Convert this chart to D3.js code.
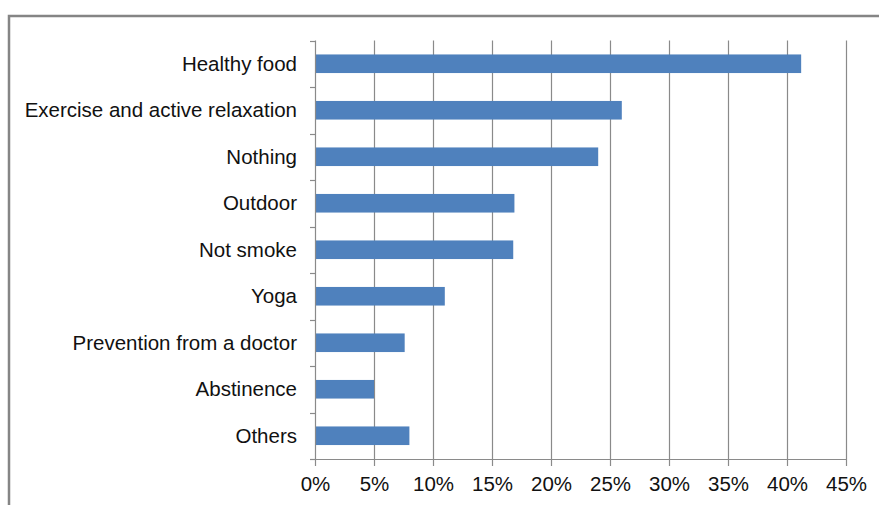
<!DOCTYPE html>
<html>
<head>
<meta charset="utf-8">
<script src="https://cdn.jsdelivr.net/npm/d3@7/dist/d3.min.js"></script>
<style>
  html, body { margin: 0; padding: 0; background: #fff; }
  svg { display: block; }
  text { font-family: "Liberation Sans", Arial, sans-serif; fill: #111; }
</style>
</head>
<body>
<svg id="chart" width="879" height="505"></svg>
<script>
// Share of respondents by what they do to stay healthy
const categories = [
  "Healthy food",
  "Exercise and active relaxation",
  "Nothing",
  "Outdoor",
  "Not smoke",
  "Yoga",
  "Prevention from a doctor",
  "Abstinence",
  "Others"
];
const values = [41.2, 26.0, 24.0, 16.9, 16.8, 11.0, 7.6, 5.0, 8.0];
const xTicks = [0, 5, 10, 15, 20, 25, 30, 35, 40, 45];

const svg = d3.select("#chart");
const W = 879, H = 505;
const plot = { left: 315, right: 846, top: 40.5, bottom: 459 };
const gridColor = "#8a8a8a";
const barColor = "#4f81bd";

// outer frame (runs past the right and bottom edges)
svg.append("rect")
  .attr("x", 9).attr("y", 16)
  .attr("width", W + 20).attr("height", H + 20)
  .attr("fill", "#fff")
  .attr("stroke", "#858585")
  .attr("stroke-width", 2.5);

const x = d3.scaleLinear().domain([0, 45]).range([plot.left, plot.right]);
const y = d3.scaleBand().domain(categories).range([plot.top, plot.bottom]).paddingInner(0).paddingOuter(0);

// vertical gridlines
svg.append("g")
  .selectAll("line")
  .data(xTicks.slice(1))
  .join("line")
  .attr("x1", d => Math.round(x(d)) + 0.5)
  .attr("x2", d => Math.round(x(d)) + 0.5)
  .attr("y1", plot.top)
  .attr("y2", plot.bottom)
  .attr("stroke", gridColor)
  .attr("stroke-width", 1.2);

// bars
const barH = y.bandwidth() * 0.4;
svg.append("g")
  .selectAll("rect")
  .data(values)
  .join("rect")
  .attr("x", x(0))
  .attr("y", (d, i) => y(categories[i]) + (y.bandwidth() - barH) / 2)
  .attr("width", d => x(d) - x(0))
  .attr("height", barH)
  .attr("fill", barColor);

// x axis
const xAxis = svg.append("g")
  .attr("transform", `translate(0,${plot.bottom})`)
  .call(d3.axisBottom(x).tickValues(xTicks).tickFormat(d => d + "%").tickSizeOuter(0).tickSize(7).tickPadding(10));
xAxis.select(".domain").attr("stroke", gridColor).attr("stroke-width", 1.2)
  .attr("d", `M${plot.left - 5},0.5H${plot.right}`);
xAxis.selectAll(".tick line").attr("stroke", gridColor).attr("stroke-width", 1.2);
xAxis.selectAll(".tick text")
  .style("font-family", '"Liberation Sans", Arial, sans-serif')
  .style("font-size", "20.5px")
  .attr("fill", "#111");

// y axis: category boundaries as ticks
const yAxis = svg.append("g").attr("transform", `translate(${plot.left},0)`);
yAxis.append("line")
  .attr("x1", 0.5).attr("x2", 0.5)
  .attr("y1", plot.top).attr("y2", plot.bottom)
  .attr("stroke", gridColor).attr("stroke-width", 1.2);
const bounds = categories.map(c => y(c)).concat([plot.bottom]);
yAxis.selectAll("line.bt")
  .data(bounds)
  .join("line")
  .attr("class", "bt")
  .attr("x1", -5).attr("x2", 0.5)
  .attr("y1", d => Math.round(d) + 0.5)
  .attr("y2", d => Math.round(d) + 0.5)
  .attr("stroke", gridColor).attr("stroke-width", 1.2);

// category labels
svg.append("g")
  .selectAll("text")
  .data(categories)
  .join("text")
  .attr("x", 297)
  .attr("y", d => y(d) + y.bandwidth() / 2)
  .attr("dy", "0.35em")
  .attr("text-anchor", "end")
  .style("font-size", "20.5px")
  .text(d => d);
</script>
</body>
</html>
